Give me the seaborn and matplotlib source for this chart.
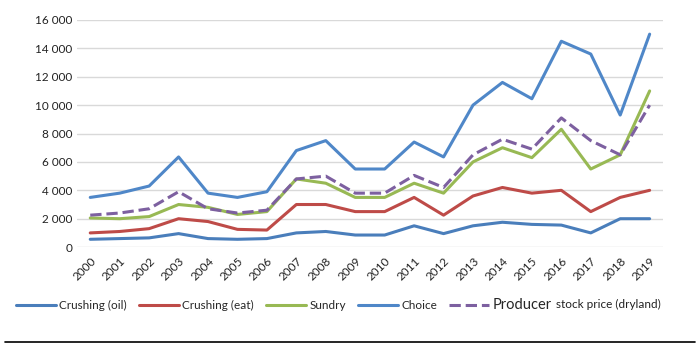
import numpy as np
import pandas as pd
import seaborn as sns
import matplotlib.pyplot as plt
from matplotlib.lines import Line2D
from matplotlib.ticker import FuncFormatter

years = [str(y) for y in range(2000, 2020)]

crushing_oil = [550, 600, 650, 950, 600, 550, 600, 1000, 1100, 850,
                850, 1500, 950, 1500, 1750, 1600, 1550, 1000, 2000, 2000]
crushing_eat = [1000, 1100, 1300, 2000, 1800, 1250, 1200, 3000, 3000, 2500,
                2500, 3500, 2250, 3600, 4200, 3800, 4000, 2500, 3500, 4000]
sundry = [2050, 2000, 2150, 3000, 2800, 2300, 2500, 4800, 4500, 3500,
          3500, 4500, 3800, 6000, 7000, 6300, 8300, 5500, 6500, 11000]
choice = [3500, 3800, 4300, 6350, 3800, 3500, 3900, 6800, 7500, 5500,
          5500, 7400, 6350, 10000, 11600, 10450, 14500, 13600, 9300, 15000]
producer = [2250, 2400, 2700, 3900, 2700, 2400, 2600, 4800, 5000, 3800,
            3800, 5050, 4200, 6500, 7600, 6900, 9100, 7500, 6500, 10000]

series = [
    ("Crushing (oil)", crushing_oil, "#4A7EBB", "-"),
    ("Crushing (eat)", crushing_eat, "#BE4B48", "-"),
    ("Sundry", sundry, "#98B954", "-"),
    ("Choice", choice, "#4F87C8", "-"),
    ("Producer", producer, "#7D60A0", "--"),
]
producer_suffix = "stock price (dryland)"


def main() -> None:
    sns.set_style("white")
    plt.rcParams['font.family'] = ['Lato', 'DejaVu Sans']

    fig = plt.figure(figsize=(7, 3.5), dpi=100)
    ax = fig.add_axes([0.11, 0.294, 0.837, 0.649])

    x = np.arange(len(years))
    for name, vals, color, ls in series:
        sns.lineplot(x=x, y=vals, ax=ax, color=color, linestyle=ls,
                     linewidth=2.2, label=name)

    ax.set_xlim(-0.45, len(years) - 0.55)
    ax.set_ylim(0, 16000)
    ax.set_yticks(range(0, 16001, 2000))
    ax.yaxis.set_major_formatter(FuncFormatter(lambda v, p: f"{int(v):,}".replace(",", " ")))
    ax.set_xticks(x)
    ax.set_xticklabels(years, rotation=45, ha="right", rotation_mode="anchor")
    ax.tick_params(axis="both", labelsize=8.5, length=0, colors="#222222")
    ax.tick_params(axis="x", pad=6)
    ax.grid(axis="y", color="#D9D9D9", linewidth=1)
    for s in ax.spines.values():
        s.set_visible(False)

    leg = ax.legend(loc="center left", bbox_to_anchor=(0.014, 0.129),
                    bbox_transform=fig.transFigure, ncol=5, frameon=False,
                    fontsize=8.5, handlelength=3.4, columnspacing=1.0,
                    handletextpad=0.3, borderpad=0)
    last = leg.get_texts()[-1]
    last.set_fontsize(10.5)

    # second half of the last label is drawn smaller, next to "Producer"
    fig.canvas.draw()
    bb = last.get_window_extent().transformed(fig.transFigure.inverted())
    fig.text(bb.x1 + 0.006, (bb.y0 + bb.y1) / 2, producer_suffix,
             va="center", ha="left", fontsize=8.5, color="#222222")

    fig.add_artist(Line2D([0.007, 0.993], [0.023, 0.023], color="black",
                          linewidth=1.2, transform=fig.transFigure))

    fig.savefig("out.png", dpi=100)


if __name__ == "__main__":
    main()
